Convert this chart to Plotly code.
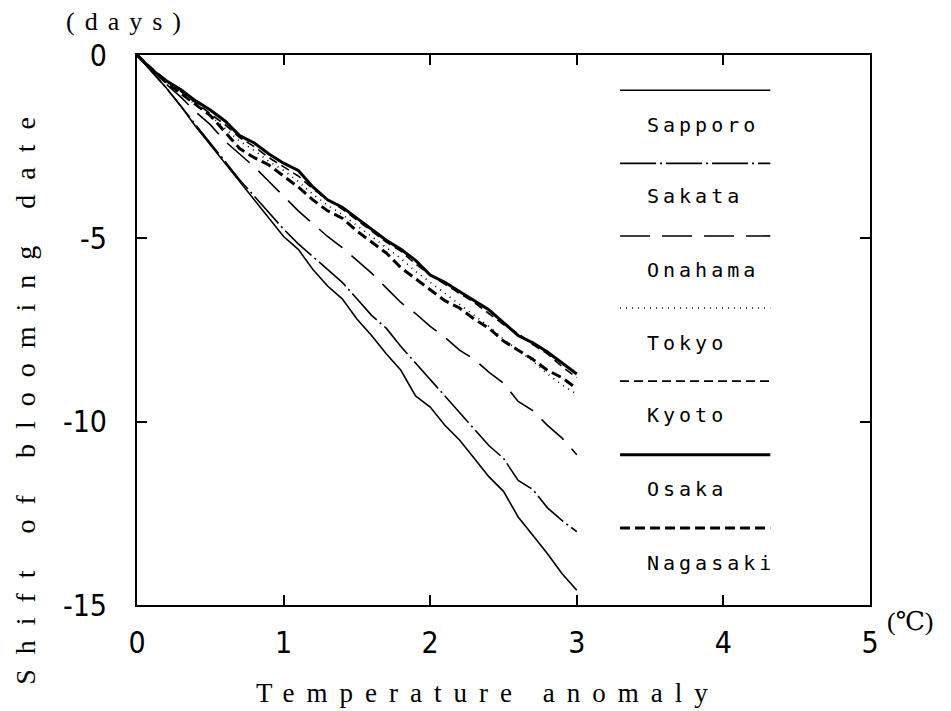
import plotly.graph_objects as go

# ---- data ----
anomaly = [0.0, 0.1, 0.2, 0.3, 0.4, 0.5, 0.6, 0.7, 0.8, 0.9, 1.0,
           1.1, 1.2, 1.3, 1.4, 1.5, 1.6, 1.7, 1.8, 1.9, 2.0,
           2.1, 2.2, 2.3, 2.4, 2.5, 2.6, 2.7, 2.8, 2.9, 3.0]

sapporo = [0, -0.45, -0.9, -1.4, -1.95, -2.45, -2.95, -3.45, -3.95, -4.45, -4.95,
           -5.3, -5.85, -6.3, -6.65, -7.2, -7.65, -8.15, -8.6, -9.3, -9.6,
           -10.1, -10.5, -11.0, -11.5, -11.9, -12.6, -13.1, -13.6, -14.15, -14.6]
sakata = [0, -0.45, -0.9, -1.4, -1.9, -2.4, -2.9, -3.4, -3.85, -4.3, -4.75,
          -5.15, -5.5, -5.85, -6.2, -6.65, -7.1, -7.45, -7.95, -8.4, -8.85,
          -9.3, -9.75, -10.2, -10.65, -11.0, -11.6, -11.85, -12.35, -12.7, -13.0]
onahama = [0, -0.4, -0.8, -1.15, -1.55, -1.9, -2.35, -2.7, -3.05, -3.45, -3.85,
           -4.25, -4.6, -4.95, -5.25, -5.6, -5.95, -6.35, -6.75, -7.05, -7.4,
           -7.7, -8.05, -8.3, -8.65, -8.95, -9.45, -9.7, -10.1, -10.45, -10.9]
tokyo = [0, -0.4, -0.75, -1.05, -1.35, -1.65, -2.0, -2.35, -2.6, -2.9, -3.15,
         -3.45, -3.8, -4.1, -4.35, -4.65, -4.95, -5.25, -5.55, -5.9, -6.2,
         -6.5, -6.8, -7.1, -7.4, -7.75, -8.05, -8.35, -8.7, -9.0, -9.25]
kyoto = [0, -0.35, -0.7, -1.0, -1.3, -1.6, -1.9, -2.25, -2.5, -2.8, -3.05,
         -3.3, -3.65, -3.95, -4.2, -4.5, -4.8, -5.1, -5.35, -5.7, -6.0,
         -6.25, -6.5, -6.75, -7.05, -7.35, -7.6, -7.9, -8.15, -8.5, -8.8]
osaka = [0, -0.4, -0.7, -0.95, -1.25, -1.5, -1.8, -2.2, -2.4, -2.7, -2.95,
         -3.15, -3.6, -3.95, -4.15, -4.45, -4.75, -5.05, -5.3, -5.6, -6.0,
         -6.2, -6.45, -6.7, -6.95, -7.3, -7.65, -7.85, -8.1, -8.4, -8.7]
nagasaki = [0, -0.4, -0.75, -1.05, -1.35, -1.65, -2.1, -2.55, -2.8, -3.0, -3.3,
            -3.6, -3.95, -4.25, -4.45, -4.8, -5.1, -5.4, -5.8, -6.1, -6.4,
            -6.7, -6.9, -7.2, -7.45, -7.8, -8.05, -8.3, -8.6, -8.8, -9.1]

cities = ["Sapporo", "Sakata", "Onahama", "Tokyo", "Kyoto", "Osaka", "Nagasaki"]
series = [sapporo, sakata, onahama, tokyo, kyoto, osaka, nagasaki]

x_ticks = [0, 1, 2, 3, 4, 5]
y_ticks = [0, -5, -10, -15]

# ---- styles ----
styles = {
    "Sapporo": dict(width=1.6, dash="solid"),
    "Sakata": dict(width=1.6, dash="36px,4px,2px,4px"),
    "Onahama": dict(width=1.6, dash="30px,12px"),
    "Tokyo": dict(width=1.6, dash="1px,5px"),
    "Kyoto": dict(width=1.6, dash="9px,5px"),
    "Osaka": dict(width=3.0, dash="solid"),
    "Nagasaki": dict(width=3.0, dash="10px,5px"),
}

fig = go.Figure()
for name, ys in zip(cities, series):
    st = styles[name]
    fig.add_trace(go.Scatter(x=anomaly, y=ys, mode="lines", name=name,
                             line=dict(color="black", width=st["width"], dash=st["dash"]),
                             showlegend=False))

# ---- hand-drawn style legend (line sample above each label) ----
line_y = [0.936, 0.803, 0.671, 0.540, 0.407, 0.273, 0.140]
label_y = [0.873, 0.744, 0.609, 0.476, 0.345, 0.211, 0.076]
shapes = []
annotations = []
for name, ly, ty in zip(cities, line_y, label_y):
    st = styles[name]
    shapes.append(dict(type="line", xref="paper", yref="paper",
                       x0=0.659, x1=0.864, y0=ly, y1=ly,
                       line=dict(color="black", width=st["width"], dash=st["dash"])))
    annotations.append(dict(xref="paper", yref="paper", x=0.693, y=ty,
                            xanchor="left", yanchor="middle", showarrow=False,
                            text='<span style="letter-spacing:4px">' + name + '</span>',
                            font=dict(family="DejaVu Sans Mono", size=20, color="black")))

serif = "Liberation Serif, DejaVu Serif, serif"
annotations.append(dict(xref="paper", yref="paper", x=-0.012, y=1.06,
                        xanchor="center", yanchor="middle", showarrow=False,
                        text='<span style="letter-spacing:10px">(days)</span>',
                        font=dict(family=serif, size=26, color="black")))
annotations.append(dict(xref="paper", yref="paper", x=1.02, y=-0.03,
                        xanchor="left", yanchor="middle", showarrow=False,
                        text="(℃)",
                        font=dict(family=serif, size=26, color="black")))
annotations.append(dict(xref="paper", yref="paper", x=0.479, y=-0.16,
                        xanchor="center", yanchor="middle", showarrow=False,
                        text='<span style="letter-spacing:12px">Temperature anomaly</span>',
                        font=dict(family=serif, size=27, color="black")))
annotations.append(dict(xref="paper", yref="paper", x=-0.152, y=0.385,
                        xanchor="center", yanchor="middle", showarrow=False,
                        textangle=-90,
                        text='<span style="letter-spacing:15px">Shift of blooming date</span>',
                        font=dict(family=serif, size=28, color="black")))

tickfont = dict(family="DejaVu Sans Condensed, Liberation Sans Narrow, sans-serif",
                size=30, color="black")

fig.update_layout(
    width=951, height=711,
    margin=dict(l=137, r=81, t=55, b=106),
    paper_bgcolor="white", plot_bgcolor="white",
    shapes=shapes, annotations=annotations,
    xaxis=dict(range=[0, 5], tickvals=x_ticks, ticktext=[str(v) for v in x_ticks],
               showgrid=False, zeroline=False, showline=True, linecolor="black",
               linewidth=2, mirror="ticks", ticks="inside", ticklen=10, tickwidth=2,
               tickcolor="black", tickfont=tickfont, ticklabelstandoff=10),
    yaxis=dict(range=[-15, 0], tickvals=y_ticks, ticktext=[str(v) for v in y_ticks],
               showgrid=False, zeroline=False, showline=True, linecolor="black",
               linewidth=2, mirror="ticks", ticks="inside", ticklen=10, tickwidth=2,
               tickcolor="black", tickfont=tickfont, ticklabelstandoff=22),
)

fig.write_html("out.html")
